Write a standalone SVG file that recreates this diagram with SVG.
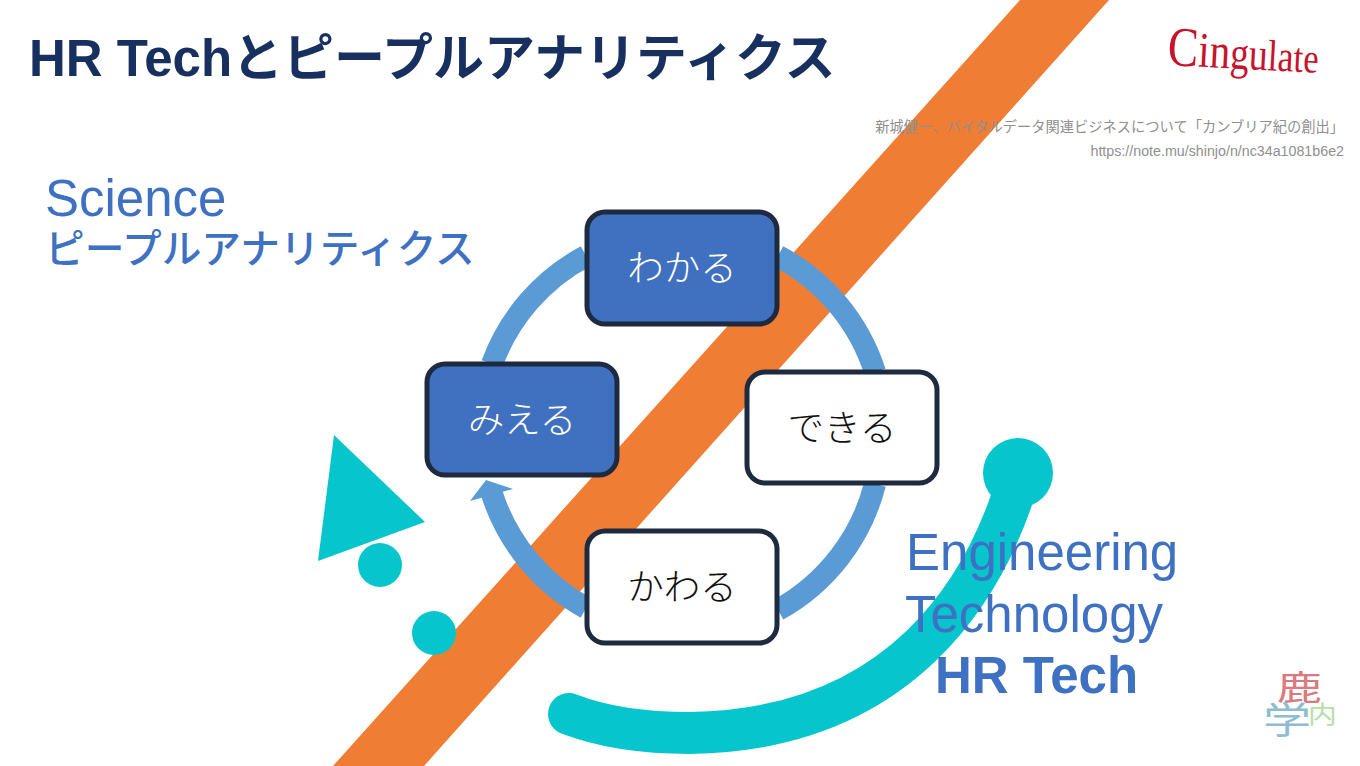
<svg xmlns="http://www.w3.org/2000/svg" width="1360" height="766" viewBox="0 0 1360 766">
<style>
.jp{font-family:"Liberation Sans","Noto Sans CJK JP",sans-serif}
.blue{fill:#3f71c2}
.box rect{stroke:#1d2a3f;stroke-width:5}
.box text{font-family:"Noto Sans CJK JP",sans-serif;font-weight:300;font-size:36.5px;text-anchor:middle}
.teal{fill:#07c5cc}
.ring{fill:none;stroke:#5b9bd5;stroke-width:22}
</style>
<rect width="1360" height="766" fill="#fff"/>
<polygon id="stripe" points="1020,0 1109,0 424,766 333,766" fill="#ef7d34"/>
<g id="connectors">
<path class="ring" d="M586 256 A200 200 0 0 0 492 364"/>
<path class="ring" d="M778 256 A200 200 0 0 1 875 372"/>
<path class="ring" d="M875 484 A200 200 0 0 1 778 610"/>
<path class="ring" d="M586 608 A200 200 0 0 1 492 494"/>
<polygon points="486,480 513,489 470,501" fill="#5b9bd5"/>
</g>
<g id="title"><text class="jp" x="29" y="76" font-size="51" font-weight="700" fill="#17305f">HR Techとピープルアナリティクス</text></g>
<g id="logo"><text font-family="Liberation Serif,serif" fill="#c8132d" transform="translate(1167 65) rotate(3) scale(.82 1)"><tspan font-size="56">C</tspan><tspan font-size="50">in</tspan><tspan font-size="46">gu</tspan><tspan font-size="44">la</tspan><tspan font-size="42">te</tspan></text></g>
<g id="source" fill="#8f8f8f" font-size="14.25" text-anchor="end">
<text class="jp" x="1344" y="132">新城健一、バイタルデータ関連ビジネスについて「カンブリア紀の創出」</text>
<text class="jp" x="1344" y="156">https://note.mu/shinjo/n/nc34a1081b6e2</text>
</g>
<g id="science" class="blue">
<text class="jp" x="45" y="216" font-size="51">Science</text>
<text class="jp" x="45" y="263" font-size="39.7" font-weight="500">ピープルアナリティクス</text>
</g>
<g id="node-wakaru" class="box"><rect x="587" y="212" width="190" height="112" rx="18" fill="#4070c0"/><text x="682" y="281" fill="#fff">わかる</text></g>
<g id="node-dekiru" class="box"><rect x="747" y="372" width="190" height="111" rx="18" fill="#fff"/><text x="842" y="441" fill="#111">できる</text></g>
<g id="node-kawaru" class="box"><rect x="587" y="531" width="190" height="112" rx="18" fill="#fff"/><text x="682" y="600" fill="#111">かわる</text></g>
<g id="node-mieru" class="box"><rect x="427" y="364" width="190" height="111" rx="18" fill="#4070c0"/><text x="522" y="433" fill="#fff">みえる</text></g>
<g id="deco">
<polygon class="teal" points="334,435 425,522 318,561"/>
<circle class="teal" cx="380" cy="565" r="22"/>
<circle class="teal" cx="434" cy="633" r="22"/>
<circle class="teal" cx="1018" cy="473" r="35"/>
<path d="M1018 480 C985 590 900 730 690 733 C640 733 600 726 569 714" fill="none" stroke="#07c5cc" stroke-width="42" stroke-linecap="round"/>
</g>
<g id="engineering" class="blue">
<text class="jp" x="906" y="570" font-size="51">Engineering</text>
<text class="jp" x="905" y="632" font-size="51">Technology</text>
<text class="jp" x="935" y="693" font-size="51" font-weight="700">HR Tech</text>
</g>
<g id="mark" font-family="Noto Sans CJK JP,sans-serif">
<text font-size="36" fill="#d97a7f" transform="translate(1277 700) scale(1.25 .95)">鹿</text>
<text font-size="37" fill="#8fbdd0" transform="translate(1263 734) scale(1.3 1)">学</text>
<text font-size="24" fill="#b6dfa8" transform="translate(1308 723) scale(1.2 1)">内</text>
</g>
</svg>
